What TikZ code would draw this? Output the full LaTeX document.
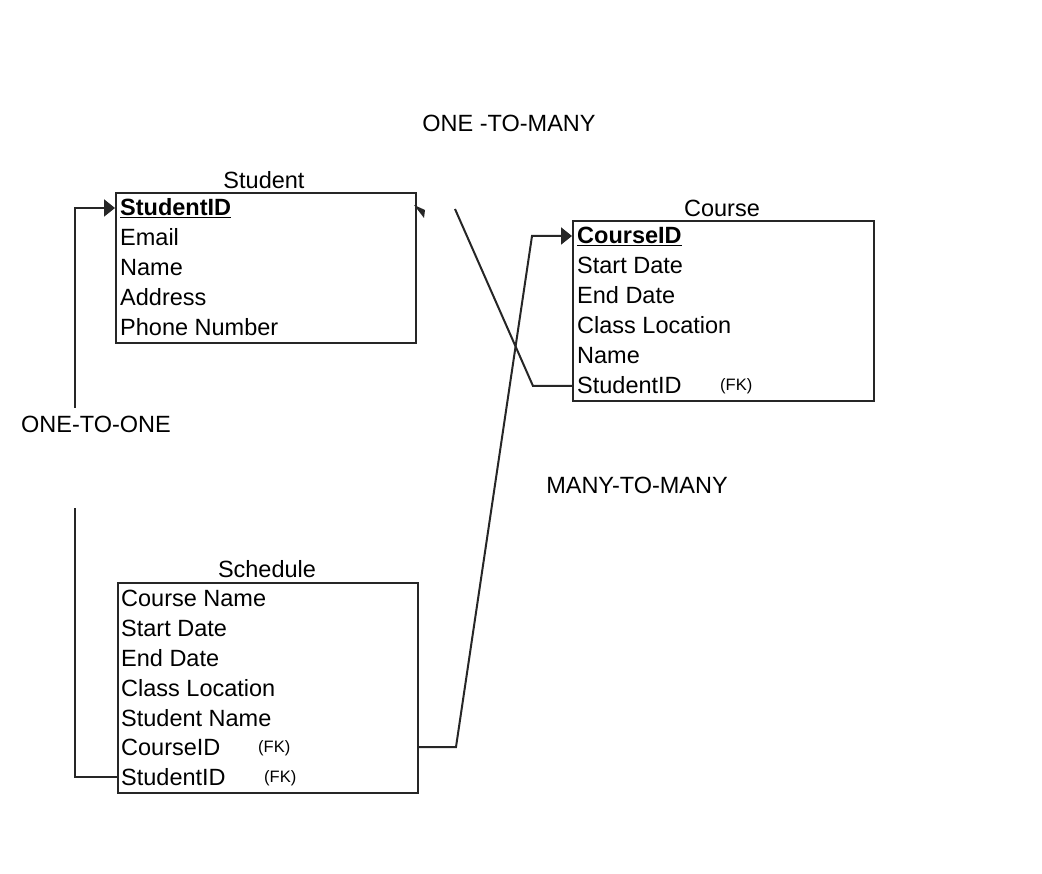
\documentclass[tikz,border=0pt]{standalone}
\usepackage{fontspec}
\setmainfont{Liberation Sans}
\usetikzlibrary{arrows.meta}
\begin{document}
\begin{tikzpicture}[x=1pt,y=-1pt,
  every node/.style={font=\fontsize{23.5}{28}\selectfont, inner sep=0pt, text=black},
  tbl/.style={draw=black!85, line width=2pt, anchor=north west, minimum width=300pt},
  row/.style={anchor=west, text height=20pt, text depth=4pt},
  fk/.style={anchor=west, font=\fontsize{16.5}{20}\selectfont, text height=14pt, text depth=4pt},
  conn/.style={draw=black!85, line width=2pt},
  arr/.style={conn, -{Triangle[length=11pt,width=17pt]}},
  lbl/.style={anchor=center}
]
\useasboundingbox (0,0) rectangle (1042,874);

% tables
\node[tbl, minimum height=150pt] (student) at (115,192) {};
\node[tbl, minimum width=301pt, minimum height=180pt] (course) at (572,220) {};
\node[tbl, minimum height=210pt] (sched) at (117,582) {};

% titles
\node (student-t) at (264,180) {Student};
\node (course-t) at (722,208) {Course};
\node (sched-t) at (267,569) {Schedule};

% Student rows
\node[row] (s1) at (120,208) {\textbf{\underline{StudentID}}};
\node[row] (s2) at (120,238) {Email};
\node[row] (s3) at (120,268) {Name};
\node[row] (s4) at (120,298) {Address};
\node[row] (s5) at (120,328) {Phone Number};

% Course rows
\node[row] (c1) at (577,236) {\textbf{\underline{CourseID}}};
\node[row] (c2) at (577,266) {Start Date};
\node[row] (c3) at (577,296) {End Date};
\node[row] (c4) at (577,326) {Class Location};
\node[row] (c5) at (577,356) {Name};
\node[row] (c6) at (577,386) {StudentID};
\node[fk] (c6fk) at (720,386) {(FK)};

% Schedule rows
\node[row] (r1) at (121,598) {Course Name};
\node[row] (r2) at (121,628) {Start Date};
\node[row] (r3) at (121,658) {End Date};
\node[row] (r4) at (121,688) {Class Location};
\node[row] (r5) at (121,718) {Student Name};
\node[row] (r6) at (121,747) {CourseID};
\node[fk] (r6fk) at (258,747) {(FK)};
\node[row] (r7) at (121,777) {StudentID};
\node[fk] (r7fk) at (264,777) {(FK)};

% relationship labels
\node[lbl] (l1) at (509,123) {ONE -TO-MANY};
\node[lbl] (l2) at (637,485) {MANY-TO-MANY};
\node[lbl] (l3) at (96,424) {ONE-TO-ONE};

% bend points
\coordinate (o1a) at (75,508);
\coordinate (o1b) at (75,408);
\coordinate (m1) at (456,747);
\coordinate (m2) at (532,236);
\coordinate (n1) at (533,386);
\coordinate (n2) at (455,209);

% one-to-one
\draw[conn] (r7 -| sched.west) -- (r7 -| o1a) -- (o1a);
\draw[arr] (o1b) -- (o1b |- s1) -- (s1 -| student.west);

% many-to-many
\draw[arr] (r6 -| sched.east) -- (r6 -| m1) -- (m2) -- (c1 -| course.west);

% one-to-many
\draw[conn] (c6 -| course.west) -- (n1) -- (n2);
\fill[black!85] (414,205) -- (425,210) -- (424,218) -- cycle;
\end{tikzpicture}
\end{document}
